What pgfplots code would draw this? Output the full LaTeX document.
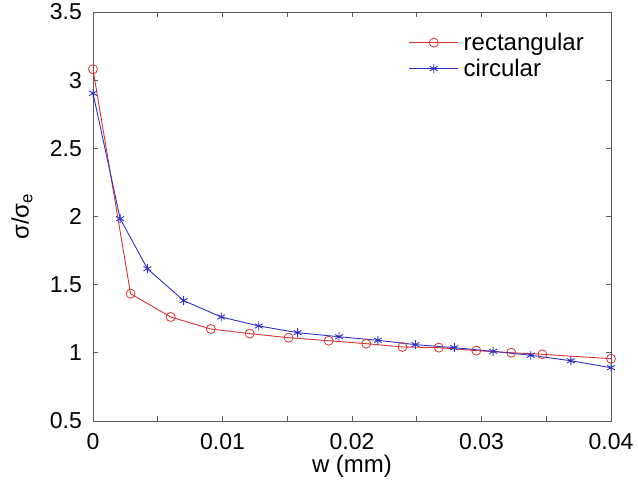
\documentclass[border=0pt]{standalone}
\usepackage{pgfplots}
\pgfplotsset{compat=1.18}
\usetikzlibrary{calc}
\usepackage{fontspec}
\setmainfont{Liberation Sans}

\definecolor{rectred}{RGB}{214,52,52}
\definecolor{circblue}{RGB}{48,48,200}
\definecolor{axgray}{RGB}{90,90,90}

\begin{document}
\begin{tikzpicture}
\begin{axis}[
    scale only axis,
    width=518pt, height=409pt,
    xmin=0, xmax=0.04,
    ymin=0.5, ymax=3.5,
    scaled x ticks=false,
    xtick={0,0.005,...,0.04},
    xticklabels={0,,0.01,,0.02,,0.03,,0.04},
    ytick={0.5,1,...,3.5},
    yticklabels={0.5,1,1.5,2,2.5,3,3.5},
    tick align=inside,
    major tick length=5pt,
    axis line style={axgray, line width=0.9pt},
    tick style={axgray, line width=0.8pt},
    every tick label/.append style={font=\fontsize{23}{27}\selectfont},
    /pgf/number format/assume math mode=true,
    xticklabel style={anchor=north, inner sep=0pt, yshift=-12pt},
    yticklabel style={anchor=east, inner sep=0pt, xshift=-11pt},
    xlabel={w (mm)},
    ylabel={σ/σ\textsubscript{e}},
    label style={font=\fontsize{24}{28}\selectfont},
    xlabel style={at={(axis description cs:0.5,0)}, anchor=center, yshift=-45pt},
    ylabel style={at={(axis description cs:0,0.5)}, anchor=center, yshift=71pt},
    legend style={draw=none, fill=none, at={(1,1)}, anchor=north east,
        xshift=-22pt, yshift=-20pt, inner sep=0pt,
        font=\fontsize{24}{29}\selectfont, row sep=5pt,
        nodes={inner xsep=5pt, inner ysep=1pt},
        cells={anchor=west}},
    legend image code/.code={
        \draw[mark repeat=2, mark phase=2, #1]
            plot coordinates {(0pt,0pt) (24.5pt,0pt) (49pt,0pt)};
    },
]
% rectangular
\addplot[rectred, line width=0.9pt, mark=o, mark size=4.5pt,
    mark options={line width=0.8pt}] coordinates {
    (0.0000, 3.08)
    (0.0029, 1.434)
    (0.0060, 1.263)
    (0.0091, 1.175)
    (0.0121, 1.141)
    (0.0151, 1.111)
    (0.0182, 1.089)
    (0.0211, 1.067)
    (0.0239, 1.043)
    (0.0267, 1.038)
    (0.0296, 1.016)
    (0.0323, 1.001)
    (0.0347, 0.989)
    (0.0400, 0.957)
};
% circular
\addplot[circblue, line width=0.9pt, mark=asterisk, mark size=4.5pt,
    mark options={line width=0.9pt}] coordinates {
    (0.0000, 2.904)
    (0.0021, 1.984)
    (0.0042, 1.617)
    (0.0070, 1.383)
    (0.0099, 1.263)
    (0.0128, 1.197)
    (0.0158, 1.148)
    (0.0190, 1.118)
    (0.0220, 1.092)
    (0.0249, 1.060)
    (0.0279, 1.038)
    (0.0309, 1.011)
    (0.0338, 0.982)
    (0.0369, 0.942)
    (0.0400, 0.891)
};
\legend{rectangular, circular}
\end{axis}
\pgfresetboundingbox
\path ($(current axis.south west)+(-93pt,-72pt)$) rectangle ($(current axis.north east)+(27pt,12pt)$);
\end{tikzpicture}
\end{document}
